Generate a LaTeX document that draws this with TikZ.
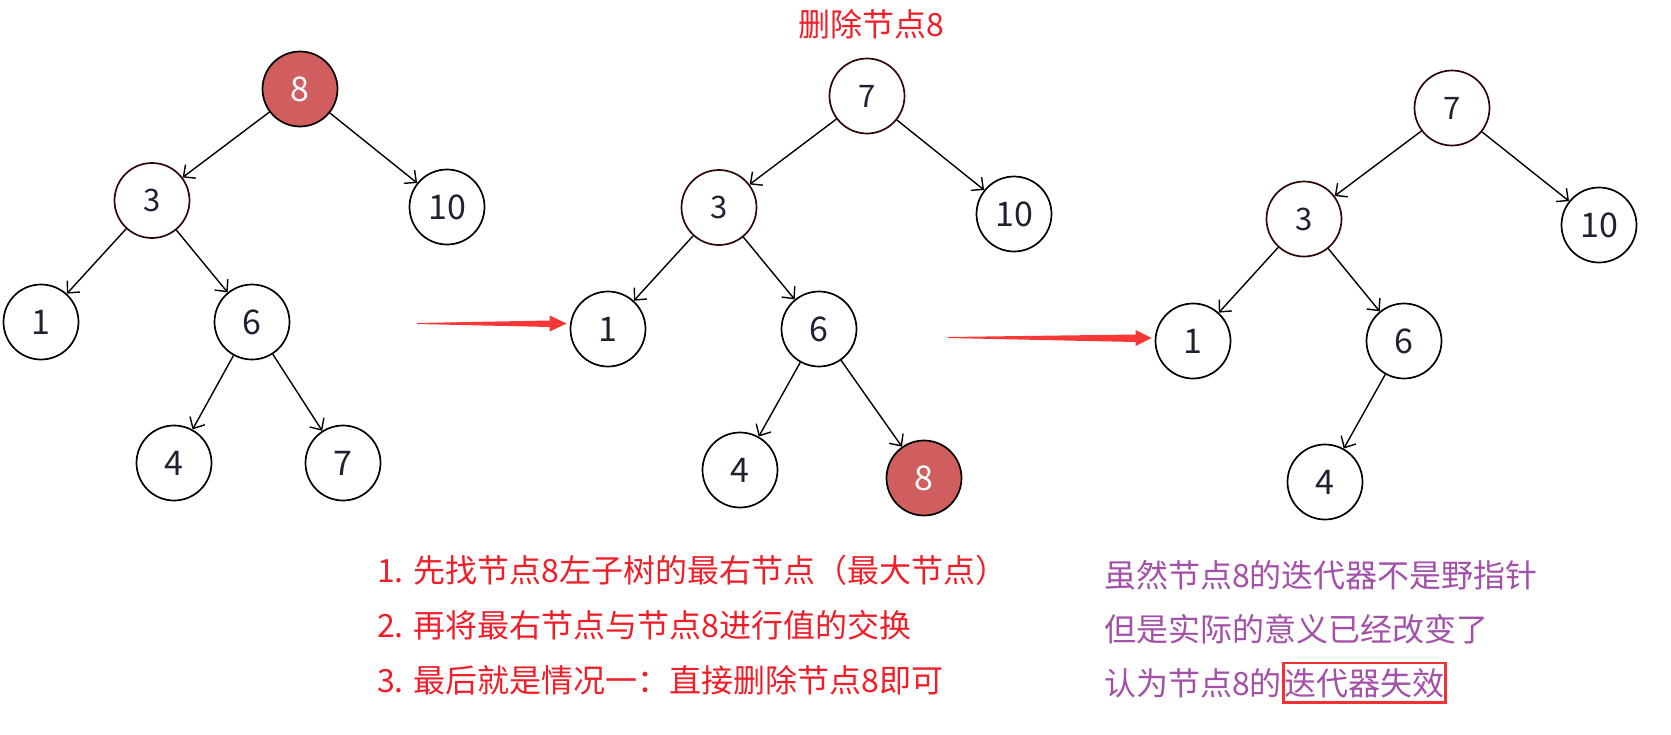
\documentclass[tikz,border=0pt]{standalone}
\usepackage{fontspec}
\setmainfont{Noto Sans CJK SC}
\usetikzlibrary{calc,arrows.meta,positioning}
\definecolor{keyink}{RGB}{30,34,48}
\definecolor{hotfill}{RGB}{208,94,94}
\definecolor{rimred}{RGB}{45,6,6}
\definecolor{noteRed}{RGB}{240,30,40}
\definecolor{notePurple}{RGB}{163,80,168}
\definecolor{boxRed}{RGB}{240,50,50}
\definecolor{pointerRed}{RGB}{250,55,55}
\newcommand{\keysize}{\fontsize{34pt}{40pt}\selectfont}
\newcommand{\movedsize}{\fontsize{31pt}{36pt}\selectfont}
\newcommand{\notesize}{\fontsize{32pt}{38pt}\selectfont}

\begin{document}
\begin{tikzpicture}[x=1pt,y=-1pt,on grid]
	\tikzstyle{key}=[circle,draw,line width=1.7pt,minimum size=75pt,inner sep=0pt,font=\keysize,text=keyink]
	\tikzstyle{moved}=[key,draw=rimred,font=\movedsize]
	\tikzstyle{hot}=[key,fill=hotfill,text=white]
	\tikzstyle{link}=[-{Straight Barb[length=9pt,width=17pt,line width=1.4pt]},line width=1.4pt]
	\tikzstyle{pointer}=[fill=pointerRed]
	\tikzstyle{note}=[anchor=base west,inner sep=0pt,font=\notesize]
	
	\useasboundingbox (0,0) rectangle (1671,734);
	
	%
	% tree before deletion
	%
	\node [hot] (a8) at (300,89) {8};
	\node [moved,below left=111.5pt and 148pt of a8] (a3) {3};
	\node [key,below right=118pt and 147pt of a8] (a10) {10};
	\node [key,below left=121.5pt and 111pt of a3] (a1) {1};
	\node [key,below right=121.5pt and 100pt of a3] (a6) {6};
	\node [key,below left=141pt and 78pt of a6] (a4) {4};
	\node [key,below right=141pt and 91pt of a6] (a7) {7};
	
	\begin{scope}[link]
		\draw (a8) -- (a3);
		\draw (a8) -- (a10);
		\draw (a3) -- (a1);
		\draw (a3) -- (a6);
		\draw (a6) -- (a4);
		\draw (a6) -- (a7);
	\end{scope}
	
	%
	% tree after the swap
	%
	\node [note,text=noteRed] (title) at (798,36) {删除节点8};
	
	\node [moved] (b7) at (867,96) {7};
	\node [moved,below left=111.5pt and 148pt of b7] (b3) {3};
	\node [key,below right=118pt and 147pt of b7] (b10) {10};
	\node [key,below left=121.5pt and 111pt of b3] (b1) {1};
	\node [key,below right=121.5pt and 100pt of b3] (b6) {6};
	\node [key,below left=141pt and 79pt of b6] (b4) {4};
	\node [hot,below right=149pt and 105pt of b6] (b8) {8};
	
	\begin{scope}[link]
		\draw (b7) -- (b3);
		\draw (b7) -- (b10);
		\draw (b3) -- (b1);
		\draw (b3) -- (b6);
		\draw (b6) -- (b4);
		\draw (b6) -- (b8);
	\end{scope}
	
	%
	% tree after deletion
	%
	\node [moved] (c7) at (1452,108) {7};
	\node [moved,below left=111pt and 148pt of c7] (c3) {3};
	\node [key,below right=117pt and 147pt of c7] (c10) {10};
	\node [key,below left=122pt and 111pt of c3] (c1) {1};
	\node [key,below right=122pt and 100pt of c3] (c6) {6};
	\node [key,below left=141pt and 79pt of c6] (c4) {4};
	
	\begin{scope}[link]
		\draw (c7) -- (c3);
		\draw (c7) -- (c10);
		\draw (c3) -- (c1);
		\draw (c3) -- (c6);
		\draw (c6) -- (c4);
	\end{scope}
	
	%
	% red step arrows
	%
	\coordinate (s1) at (417,323);
	\coordinate (t1) at ($(b1.west)+(-3,-5.5)$);
	\fill [pointer] (t1) -- ($(t1)+(-17,-8)$) -- ($(t1)+(-17,-3)$) -- (s1) -- ($(s1)+(0,1)$)
		-- ($(t1)+(-17,3.5)$) -- ($(t1)+(-17,8)$) -- cycle;
	
	\coordinate (s2) at (948,337);
	\coordinate (t2) at ($(c1.west)+(-3,-3)$);
	\fill [pointer] (t2) -- ($(t2)+(-16,-8)$) -- ($(t2)+(-16,-3.5)$) -- (s2) -- ($(s2)+(0,1)$)
		-- ($(t2)+(-16,4)$) -- ($(t2)+(-16,8)$) -- cycle;
	
	%
	% notes
	%
	\node [note,text=noteRed] (step1) at (377,582) {1. 先找节点8左子树的最右节点（最大节点）};
	\node [note,text=noteRed] (step2) at (377,637) {2. 再将最右节点与节点8进行值的交换};
	\node [note,text=noteRed] (step3) at (377,692) {3. 最后就是情况一：直接删除节点8即可};
	
	\node [note,text=notePurple] (why1) at (1104,587) {虽然节点8的迭代器不是野指针};
	\node [note,text=notePurple] (why2) at (1104,641) {但是实际的意义已经改变了};
	\node [note,text=notePurple] (why3) at (1104,695) {认为节点8的};
	\node [note,text=notePurple,draw=boxRed,line width=2.6pt,inner xsep=1pt,inner ysep=5pt,
		anchor=base west] (fail) at (why3.base east) {迭代器失效};
	
\end{tikzpicture}
\end{document}
